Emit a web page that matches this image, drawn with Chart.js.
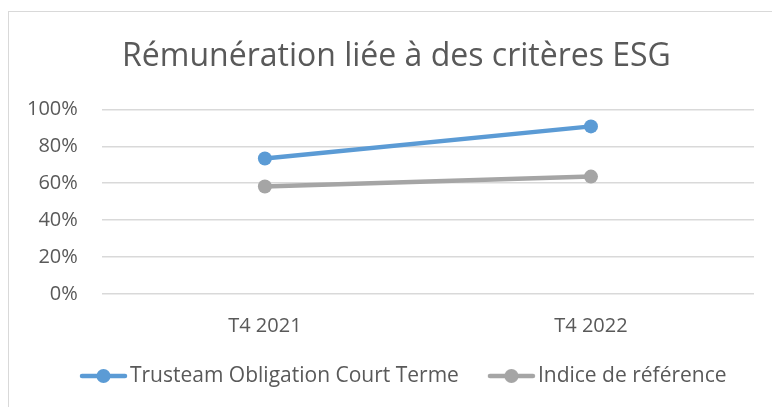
<!DOCTYPE html>
<html>
<head>
<meta charset="utf-8">
<script src="https://cdn.jsdelivr.net/npm/chart.js@4"></script>
<style>
  html, body { margin: 0; padding: 0; background: #fff; overflow: hidden; }
  #frame { position: absolute; left: 8px; top: 11px; width: 764px; height: 396px;
           border-left: 1px solid #d9d9d9; border-top: 1px solid #d9d9d9; }
  #wrap { position: absolute; left: 0; top: 0; width: 772px; height: 407px; }
</style>
</head>
<body>
<div id="frame"></div>
<div id="wrap"><canvas id="esgChart" width="772" height="407"></canvas></div>
<script>
// --- Données ---
const categories = ['T4 2021', 'T4 2022'];
const fondValues = [0.734, 0.908];
const indiceValues = [0.582, 0.636];
const yTicks = [0, 0.2, 0.4, 0.6, 0.8, 1.0];

const FONT = '"Open Sans", sans-serif';
const TEXT = '#595959';

// --- Marqueur de légende : trait + rond (zone transparente à gauche pour l'espacement) ---
function legendMarker(color) {
  const c = document.createElement('canvas');
  c.width = 70; c.height = 16;
  const g = c.getContext('2d');
  g.strokeStyle = color;
  g.lineWidth = 4.5;
  g.lineCap = 'round';
  g.beginPath(); g.moveTo(24, 8); g.lineTo(67, 8); g.stroke();
  g.fillStyle = color;
  g.beginPath(); g.arc(45.5, 8, 7, 0, Math.PI * 2); g.fill();
  return c;
}

// --- Titre et légende centrés sur le cadre Excel (plus large que la capture) ---
const frameShift = {
  id: 'frameShift',
  afterLayout(chart) {
    chart.legend.left += 18;
    chart.legend.right += 18;
    chart.titleBlock.left += 18;
    chart.titleBlock.right += 18;
  }
};

const ctx = document.getElementById('esgChart').getContext('2d');

new Chart(ctx, {
  type: 'line',
  data: {
    labels: categories,
    datasets: [{
      label: 'Trusteam Obligation Court Terme',
      data: fondValues,
      borderColor: '#5b9bd5',
      backgroundColor: '#5b9bd5',
      borderWidth: 4.5,
      pointRadius: 7,
      pointHoverRadius: 7,
      pointBorderWidth: 0
    }, {
      label: 'Indice de référence',
      data: indiceValues,
      borderColor: '#a5a5a5',
      backgroundColor: '#a5a5a5',
      borderWidth: 4.5,
      pointRadius: 7,
      pointHoverRadius: 7,
      pointBorderWidth: 0
    }]
  },
  plugins: [frameShift],
  options: {
    responsive: false,
    animation: false,
    layout: { padding: { left: 3, right: 18, top: 38, bottom: 10.5 } },
    scales: {
      x: {
        offset: true,
        grid: { display: false },
        border: { display: false },
        ticks: { color: TEXT, font: { family: FONT, size: 20 }, padding: 12 }
      },
      y: {
        min: 0,
        max: 1,
        afterBuildTicks: axis => { axis.ticks = yTicks.map(v => ({ value: v })); },
        grid: { color: '#d9d9d9', lineWidth: 1.5, drawTicks: false },
        border: { display: false },
        ticks: {
          color: TEXT,
          font: { family: FONT, size: 20 },
          padding: 24,
          callback: v => Math.round(v * 100) + '%'
        }
      }
    },
    plugins: {
      title: {
        display: true,
        text: 'Rémunération liée à des critères ESG',
        color: TEXT,
        font: { family: FONT, size: 32, weight: 'normal' },
        padding: { top: 0, bottom: 33 }
      },
      legend: {
        position: 'bottom',
        labels: {
          color: TEXT,
          font: { family: FONT, size: 21 },
          usePointStyle: true,
          pointStyleWidth: 53,
          padding: 15.5,
          generateLabels: chart => chart.data.datasets.map((ds, i) => ({
            text: ds.label,
            fontColor: TEXT,
            pointStyle: legendMarker(ds.borderColor),
            datasetIndex: i,
            hidden: false
          }))
        }
      },
      tooltip: { enabled: false }
    }
  }
});
</script>
</body>
</html>
